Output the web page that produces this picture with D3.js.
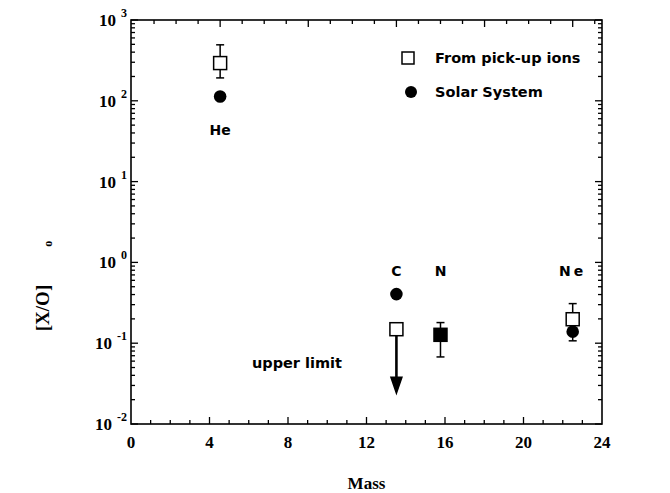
<!DOCTYPE html>
<html><head><meta charset="utf-8">
<script src="https://cdn.jsdelivr.net/npm/d3@7"></script>
<style>body{margin:0;background:#fff}svg{display:block}</style>
</head><body>
<svg id="c" width="670" height="493"></svg>
<script>
// ---- data ----
const elements = ["He", "C", "N", "Ne"];
const mass = [4, 12, 14, 20];
// pick-up ion ratios (C is an upper limit)
const pickupVal = [293, 0.149, 0.127, 0.198];
const pickupHi  = [493, null, 0.18, 0.309];
const pickupLo  = [192, null, 0.0676, null];
const pickupFilled = [false, false, true, false];
const upperLimit = [false, true, false, false];
const arrowEnd = [null, 0.024, null, null];
// solar system ratios
const solarMass = [4, 12, 20];
const solarVal = [113, 0.405, 0.139];
const solarLo  = [null, null, 0.107];
const xTicksMajor = [0, 4, 8, 12, 16, 20, 24];
const yDecades = [-2, -1, 0, 1, 2, 3];

const svg = d3.select("#c");
const L = 131, R = 602, T = 20, B = 424;
const x = d3.scaleLinear().domain([0, 24]).range([L, R]);          // bottom axis
const xp = d3.scaleLinear().domain([0, 21.33]).range([132, R]);      // top axis / plotted marks
const y = d3.scaleLog().domain([1e-2, 1e3]).range([B, T]);

const g = svg.append("g").attr("stroke", "#000").attr("fill", "none").attr("stroke-width", 1.3);
// frame
g.append("rect").attr("x", L).attr("y", T).attr("width", R - L).attr("height", B - T).attr("stroke-width", 1.6);

// y ticks (left & right, inward)
const yMinor = [];
yDecades.slice(0, -1).forEach(e => { for (let k = 2; k <= 9; k++) yMinor.push(k * Math.pow(10, e)); });
const yMajor = yDecades.map(e => Math.pow(10, e));
[[L, 1], [R, -1]].forEach(([x0, s]) => {
  yMajor.forEach(v => g.append("line").attr("x1", x0).attr("x2", x0 + s * 7).attr("y1", y(v)).attr("y2", y(v)));
  yMinor.forEach(v => g.append("line").attr("x1", x0).attr("x2", x0 + s * 4).attr("y1", y(v)).attr("y2", y(v)));
});
// bottom ticks
d3.range(1, 24).forEach(v => {
  const len = v % 4 === 0 ? 7 : 4;
  g.append("line").attr("x1", x(v)).attr("x2", x(v)).attr("y1", B).attr("y2", B - len);
});
// top ticks
d3.range(1, 22).forEach(v => {
  const len = v % 4 === 0 ? 7 : 4;
  g.append("line").attr("x1", xp(v)).attr("x2", xp(v)).attr("y1", T).attr("y2", T + len);
});

// tick labels
const serif = "'Liberation Serif','Times New Roman',serif";
svg.append("g").selectAll("text").data(xTicksMajor).join("text")
  .attr("x", d => x(d)).attr("y", 448).attr("text-anchor", "middle")
  .attr("font-family", serif).attr("font-weight", "bold").attr("font-size", 17).text(d => d);
const yl = svg.append("g").selectAll("text").data(yDecades).join("text")
  .attr("x", 127).attr("y", d => y(Math.pow(10, d)) + 6).attr("text-anchor", "end")
  .attr("font-family", serif).attr("font-weight", "bold").attr("font-size", 17);
yl.append("tspan").text("10");
yl.append("tspan").attr("dx", 5).attr("dy", -9).attr("font-size", 12).text(d => d);

// axis titles
svg.append("text").attr("x", x(12)).attr("y", 489).attr("text-anchor", "middle")
  .attr("font-family", serif).attr("font-weight", "bold").attr("font-size", 17).text("Mass");
const yt = svg.append("text").attr("transform", "translate(49,286) rotate(-90)").attr("text-anchor", "middle")
  .attr("font-family", serif).attr("font-weight", "bold").attr("font-size", 19);
yt.append("tspan").text("[X/O]");
yt.append("tspan").attr("dx", 38).attr("dy", 3).attr("font-size", 12).text("o");

// marks
const sans = "'DejaVu Sans',Verdana,sans-serif";
const cap = 4, half = 6.5;
const mk = svg.append("g").attr("stroke", "#000").attr("stroke-width", 1.5);
// solar system circles (+ error)
solarMass.forEach((m, i) => {
  if (solarLo[i] != null) mk.append("line").attr("x1", xp(m)).attr("x2", xp(m)).attr("y1", y(solarVal[i])).attr("y2", y(solarLo[i]));
  if (solarLo[i] != null) mk.append("line").attr("x1", xp(m) - cap).attr("x2", xp(m) + cap).attr("y1", y(solarLo[i])).attr("y2", y(solarLo[i]));
  mk.append("circle").attr("cx", xp(m)).attr("cy", y(solarVal[i])).attr("r", 6.3).attr("fill", "#000").attr("stroke", "none");
});
// pick-up ions
mass.forEach((m, i) => {
  const cx = xp(m), cy = y(pickupVal[i]);
  if (pickupHi[i] != null) {
    mk.append("line").attr("x1", cx).attr("x2", cx).attr("y1", cy - half).attr("y2", y(pickupHi[i]));
    mk.append("line").attr("x1", cx - cap).attr("x2", cx + cap).attr("y1", y(pickupHi[i])).attr("y2", y(pickupHi[i]));
  }
  if (pickupLo[i] != null) {
    mk.append("line").attr("x1", cx).attr("x2", cx).attr("y1", cy + half).attr("y2", y(pickupLo[i]));
    mk.append("line").attr("x1", cx - cap).attr("x2", cx + cap).attr("y1", y(pickupLo[i])).attr("y2", y(pickupLo[i]));
  }
  if (upperLimit[i]) {
    const ye = y(arrowEnd[i]);
    mk.append("line").attr("x1", cx).attr("x2", cx).attr("y1", cy + half).attr("y2", ye - 12).attr("stroke-width", 2.6);
    mk.append("path").attr("d", `M${cx - 5.5},${ye - 16}L${cx + 5.5},${ye - 16}L${cx},${ye}Z`).attr("fill", "#000");
  }
  mk.append("rect").attr("x", cx - half).attr("y", cy - half).attr("width", 2 * half).attr("height", 2 * half)
    .attr("fill", pickupFilled[i] ? "#000" : "#fff");
});

// element labels
const labY = [135, 276, 276, 276];
svg.append("g").selectAll("text").data(elements).join("text")
  .attr("x", (d, i) => xp(mass[i])).attr("y", (d, i) => labY[i]).attr("text-anchor", "middle")
  .attr("font-family", sans).attr("font-weight", "bold").attr("font-size", 14)
  .attr("letter-spacing", d => d === "Ne" ? 3 : 0).text(d => d);
svg.append("text").attr("x", 297).attr("y", 368).attr("text-anchor", "middle")
  .attr("font-family", sans).attr("font-weight", "bold").attr("font-size", 14.5).text("upper limit");

// legend
const lg = svg.append("g");
lg.append("rect").attr("x", 402).attr("y", 52).attr("width", 12).attr("height", 12).attr("fill", "#fff").attr("stroke", "#000").attr("stroke-width", 1.5);
lg.append("circle").attr("cx", 411).attr("cy", 92).attr("r", 6).attr("fill", "#000");
lg.append("text").attr("x", 435).attr("y", 63).attr("font-family", sans).attr("font-weight", "bold").attr("font-size", 14.5).text("From pick-up ions");
lg.append("text").attr("x", 435).attr("y", 97).attr("font-family", sans).attr("font-weight", "bold").attr("font-size", 14.5).text("Solar System");
</script>
</body></html>
